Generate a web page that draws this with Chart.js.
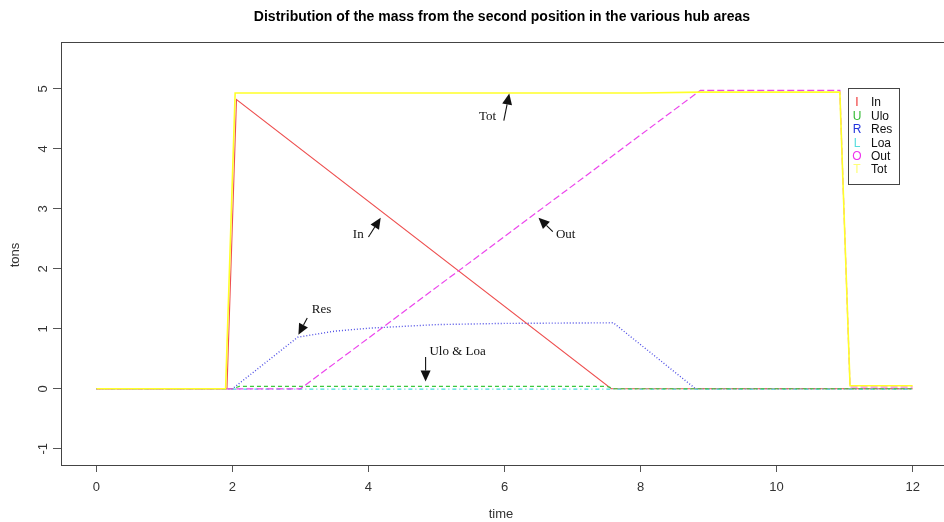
<!DOCTYPE html>
<html><head><meta charset="utf-8">
<script src="https://cdn.jsdelivr.net/npm/chart.js@4/dist/chart.umd.min.js"></script>
<style>html,body{margin:0;padding:0;background:#fff;overflow:hidden}#wrap{width:950px;height:522px;position:relative}</style>
</head><body><div id="wrap"><canvas id="c"></canvas></div>
<script>
const xTicks = [0, 2, 4, 6, 8, 10, 12];
const yTicks = [-1, 0, 1, 2, 3, 4, 5];
const seriesNames = ["In", "Ulo", "Res", "Loa", "Out", "Tot"];
const seriesLetters = ["I", "U", "R", "L", "O", "T"];
const tIn = [0, 1.92, 2.06, 7.57, 12];
const vIn = [0, 0, 4.82, 0, 0];
const tUlo = [0, 2.0, 2.1, 7.5, 7.62, 12];
const vUlo = [0, 0, 0.04, 0.04, 0, 0];
const tRes = [0, 2.0, 2.96, 3.5, 4.0, 4.5, 5.0, 5.5, 6.0, 7.6, 8.81, 12];
const vRes = [0, 0, 0.86, 0.96, 1.01, 1.04, 1.07, 1.08, 1.09, 1.10, 0, 0];
const tLoa = [0, 2.0, 12];
const vLoa = [0, -0.005, -0.005];
const tOut = [0, 3.0, 8.88, 10.93, 11.08, 12];
const vOut = [0, 0, 4.975, 4.975, 0.03, 0.03];
const tTot = [0, 1.9, 2.04, 8.0, 8.9, 10.93, 11.08, 12];
const vTot = [0, 0, 4.93, 4.93, 4.945, 4.945, 0.05, 0.05];
const notes = [
  {text: "Tot", tx: 5.75, ty: 4.53, ax: 5.99, ay: 4.47, hx: 6.07, hy: 4.92},
  {text: "In", tx: 3.85, ty: 2.57, ax: 4.0, ay: 2.53, hx: 4.18, hy: 2.85},
  {text: "Out", tx: 6.9, ty: 2.57, ax: 6.71, ay: 2.62, hx: 6.50, hy: 2.85},
  {text: "Res", tx: 3.31, ty: 1.32, ax: 3.10, ay: 1.18, hx: 2.97, hy: 0.90},
  {text: "Ulo & Loa", tx: 5.31, ty: 0.62, ax: 4.84, ay: 0.53, hx: 4.84, hy: 0.12}
];

const colors = ["rgb(238,80,80)", "rgb(60,200,60)", "rgb(80,80,230)", "rgb(70,220,220)", "rgb(236,70,236)", "rgb(255,255,40)"];
const legendColors = ["#ee3333", "#33bb33", "#2233dd", "#55dddd", "#ee33ee", "#ffff77"];
const dashes = [[], [4, 3], [1, 2], [1, 3, 4, 3], [7, 3], []];
const widths = [1.1, 1.1, 1.4, 1.1, 1.2, 1.6];
const orders = [4, 2, 5, 3, 1, 0];
const tArr = [tIn, tUlo, tRes, tLoa, tOut, tTot];
const vArr = [vIn, vUlo, vRes, vLoa, vOut, vTot];

const datasets = seriesNames.map((n, i) => ({
  label: n,
  data: tArr[i].map((t, k) => ({x: t, y: vArr[i][k]})),
  borderColor: colors[i],
  borderDash: dashes[i],
  borderWidth: widths[i],
  pointRadius: 0,
  tension: 0,
  fill: false,
  order: orders[i]
}));

const deco = {
  id: 'deco',
  afterDraw(chart) {
    const ctx = chart.ctx, a = chart.chartArea;
    const xs = chart.scales.x, ys = chart.scales.y;
    ctx.save();
    ctx.strokeStyle = '#444'; ctx.lineWidth = 1;
    ctx.strokeRect(Math.round(a.left) + 0.5, Math.round(a.top) + 0.5, Math.round(a.right - a.left), Math.round(a.bottom - a.top));
    ctx.fillStyle = '#333';
    ctx.font = '13px "Liberation Sans", Arial, sans-serif';
    ctx.textAlign = 'center'; ctx.textBaseline = 'middle';
    yTicks.forEach(v => {
      const py = ys.getPixelForValue(v);
      ctx.save(); ctx.translate(43, py); ctx.rotate(-Math.PI / 2);
      ctx.fillText(String(v), 0, 0); ctx.restore();
    });
    ctx.save(); ctx.translate(15, 255); ctx.rotate(-Math.PI / 2);
    ctx.fillText('tons', 0, 0); ctx.restore();
    ctx.fillText('time', 501, 514);
    ctx.fillStyle = '#000';
    ctx.font = 'bold 14px "Liberation Sans", Arial, sans-serif';
    ctx.fillText('Distribution of the mass from the second position in the various hub areas', 502, 17);
    ctx.font = '13px "Liberation Serif", "Times New Roman", serif';
    ctx.fillStyle = '#111'; ctx.strokeStyle = '#111';
    notes.forEach(n => {
      ctx.fillText(n.text, xs.getPixelForValue(n.tx), ys.getPixelForValue(n.ty));
      const x0 = xs.getPixelForValue(n.ax), y0 = ys.getPixelForValue(n.ay);
      const x1 = xs.getPixelForValue(n.hx), y1 = ys.getPixelForValue(n.hy);
      const ang = Math.atan2(y1 - y0, x1 - x0);
      const L = 11, W = 5;
      const bx = x1 - L * Math.cos(ang), by = y1 - L * Math.sin(ang);
      ctx.lineWidth = 1.1;
      ctx.beginPath(); ctx.moveTo(x0, y0); ctx.lineTo(bx, by); ctx.stroke();
      ctx.beginPath();
      ctx.moveTo(x1, y1);
      ctx.lineTo(bx + W * Math.sin(ang), by - W * Math.cos(ang));
      ctx.lineTo(bx - W * Math.sin(ang), by + W * Math.cos(ang));
      ctx.closePath(); ctx.fill();
    });
    const lx = 848, ly = 88, lw = 51, lh = 96;
    ctx.fillStyle = '#fff';
    ctx.fillRect(lx, ly, lw, lh);
    ctx.strokeStyle = '#444'; ctx.lineWidth = 1;
    ctx.strokeRect(lx + 0.5, ly + 0.5, lw, lh);
    ctx.font = '12px "Liberation Sans", Arial, sans-serif';
    seriesNames.forEach((n, i) => {
      const y = 103 + i * 13.4;
      ctx.textAlign = 'center'; ctx.fillStyle = legendColors[i];
      ctx.fillText(seriesLetters[i], 857, y);
      ctx.textAlign = 'left'; ctx.fillStyle = '#111';
      ctx.fillText(n, 871, y);
    });
    ctx.restore();
  }
};

new Chart(document.getElementById('c'), {
  type: 'line',
  data: {datasets},
  options: {
    responsive: true, maintainAspectRatio: false, animation: false,
    layout: {padding: {top: 42, left: 0, right: 2, bottom: 0}},
    plugins: {legend: {display: false}, title: {display: false}, tooltip: {enabled: false}},
    scales: {
      x: {
        type: 'linear', min: -0.52, max: 12.52,
        afterBuildTicks: s => { s.ticks = xTicks.map(v => ({value: v})); },
        afterFit: s => { s.height = 57; },
        grid: {display: true, drawOnChartArea: false, drawTicks: true, tickLength: 7, color: '#555'},
        border: {display: false},
        ticks: {color: '#333', font: {size: 13, family: '"Liberation Sans", Arial, sans-serif'}, padding: 8, maxRotation: 0, autoSkip: false}
      },
      y: {
        type: 'linear', min: -1.27, max: 5.78,
        afterBuildTicks: s => { s.ticks = yTicks.map(v => ({value: v})); },
        afterFit: s => { s.width = 61; },
        grid: {display: true, drawOnChartArea: false, drawTicks: true, tickLength: 8, color: '#555'},
        border: {display: false},
        ticks: {callback: () => '', padding: 0}
      }
    }
  },
  plugins: [deco]
});
</script></body></html>
